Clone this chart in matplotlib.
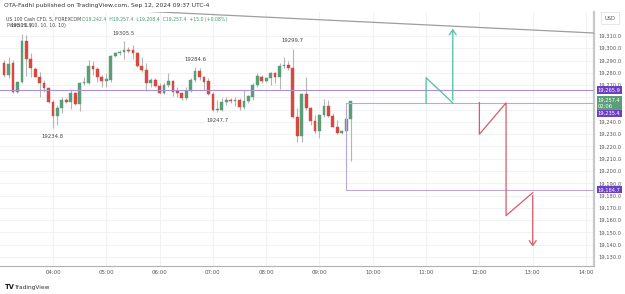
import matplotlib
matplotlib.use("Agg")
import matplotlib.pyplot as plt
import matplotlib.transforms as mtransforms

# ---------------- data ----------------
start_minute = 3 * 60 + 5      # first candle 03:05, 5-minute bars
bar_minutes = 5

opens = [19288.0, 19278.2, 19288.0, 19264.4, 19272.5, 19305.9, 19291.3, 19283.1, 19276.6, 19271.7,
         19267.7, 19256.3, 19244.9, 19251.4, 19257.9, 19256.3, 19263.6, 19254.6, 19271.7, 19271.7,
         19285.6, 19283.1, 19276.6, 19273.4, 19274.2, 19293.7, 19296.2, 19297.0, 19298.6, 19298.6,
         19296.2, 19285.6, 19282.3, 19271.7, 19274.2, 19269.3, 19263.6, 19270.1, 19273.4, 19265.2,
         19263.6, 19259.5, 19265.2, 19274.2, 19281.5, 19276.6, 19273.4, 19262.8, 19249.7, 19249.7,
         19256.3, 19257.9, 19256.7, 19257.9, 19252.2, 19257.1, 19260.3, 19270.1, 19276.6, 19273.4,
         19275.8, 19279.9, 19276.6, 19285.6, 19286.4, 19283.9, 19244.0, 19228.6, 19262.8, 19251.4,
         19240.8, 19232.6, 19245.7, 19253.0, 19244.9, 19235.9, 19231.0, 19232.6, 19242.4]
highs = [19290.5, 19292.9, 19290.5, 19273.4, 19311.9, 19311.0, 19296.2, 19284.8, 19280.7, 19274.2,
         19268.5, 19257.9, 19253.8, 19260.3, 19259.5, 19266.0, 19264.4, 19272.5, 19276.6, 19290.5,
         19289.6, 19284.8, 19278.2, 19279.9, 19294.5, 19297.0, 19298.6, 19305.5, 19301.0, 19302.7,
         19297.0, 19292.9, 19288.0, 19275.8, 19275.8, 19271.7, 19271.7, 19279.9, 19274.2, 19268.5,
         19264.4, 19268.5, 19275.8, 19284.6, 19283.9, 19277.4, 19275.8, 19264.4, 19257.9, 19259.5,
         19260.3, 19259.5, 19260.3, 19259.5, 19266.0, 19262.0, 19271.7, 19279.9, 19278.2, 19276.6,
         19280.7, 19280.7, 19288.0, 19292.9, 19289.6, 19299.7, 19251.4, 19263.6, 19276.6, 19252.2,
         19245.7, 19246.5, 19258.7, 19257.9, 19247.3, 19241.6, 19233.4, 19250.6, 19257.4]
lows = [19276.6, 19275.8, 19263.6, 19263.6, 19271.7, 19277.4, 19276.6, 19276.2, 19260.3, 19264.4,
        19255.5, 19234.8, 19237.5, 19247.3, 19255.5, 19250.6, 19253.8, 19248.9, 19270.1, 19270.9,
        19278.2, 19272.5, 19268.5, 19268.5, 19272.5, 19292.9, 19294.5, 19291.3, 19296.2, 19291.3,
        19284.8, 19280.7, 19265.2, 19268.5, 19268.5, 19263.0, 19263.0, 19268.5, 19261.1, 19260.3,
        19257.9, 19257.9, 19264.4, 19272.5, 19274.2, 19266.0, 19262.0, 19248.5, 19247.7, 19248.9,
        19253.8, 19255.5, 19253.0, 19249.7, 19250.6, 19255.5, 19257.9, 19268.5, 19271.7, 19272.5,
        19270.1, 19271.7, 19266.8, 19283.9, 19282.3, 19243.2, 19223.7, 19223.7, 19249.7, 19237.5,
        19231.0, 19227.0, 19244.0, 19244.0, 19235.5, 19230.2, 19230.2, 19204.0, 19208.4]
closes = [19278.2, 19287.2, 19264.4, 19272.5, 19305.9, 19291.3, 19283.9, 19276.6, 19271.7, 19267.7,
          19256.3, 19244.9, 19251.4, 19257.9, 19256.3, 19263.6, 19254.6, 19271.7, 19272.5, 19285.6,
          19283.1, 19276.6, 19273.4, 19275.0, 19293.7, 19296.2, 19297.0, 19298.6, 19297.8, 19296.2,
          19285.6, 19282.3, 19271.7, 19274.2, 19269.3, 19263.6, 19270.1, 19273.4, 19264.4, 19263.6,
          19259.5, 19265.2, 19274.2, 19281.5, 19276.6, 19272.5, 19262.8, 19249.7, 19250.6, 19256.3,
          19257.9, 19257.1, 19257.9, 19252.2, 19257.1, 19261.1, 19270.1, 19277.4, 19273.4, 19275.8,
          19279.9, 19276.6, 19285.6, 19286.4, 19283.9, 19244.0, 19228.6, 19262.8, 19251.4, 19240.8,
          19232.6, 19245.7, 19253.0, 19244.9, 19235.9, 19231.0, 19232.6, 19242.4, 19257.4]

# pivot labels: (bar index, price, kind)
pivot_idx = [4, 11, 27, 43, 48, 65]
pivot_val = [19311.9, 19234.8, 19305.5, 19284.6, 19247.7, 19299.7]
pivot_kind = ["high", "low", "high", "high", "low", "high"]

# horizontal levels / boxes
level_line = 19265.9
rect_left_hour = 9.5
rect_top = 19255.5
rect_bottom = 19184.7

# trend line (hour, price)
trend_x = [3.0, 14.15]
trend_y = [19335.8, 19312.4]

# projected zigzags (hour, price)
bull_x = [11.0, 11.0, 11.5, 11.5]
bull_y = [19255.5, 19276.0, 19255.5, 19318.0]
bear_x = [12.0, 12.0, 12.5, 12.5, 13.0, 13.0]
bear_y = [19255.7, 19230.0, 19255.5, 19163.7, 19182.4, 19136.3]

# price-scale labels: (price position, text, colour)
box_pos = [19265.9, 19255.4, 19247.0, 19184.7]
box_txt = ["19,265.9", "19,257.4\n02:06", "19,235.4", "19,184.7"]
box_col = ["#6c3fc4", "#5a9e77", "#6c3fc4", "#6c3fc4"]

x_ticks = [4, 5, 6, 7, 8, 9, 10, 11, 12, 13, 14]
x_tick_labels = ["04:00", "05:00", "06:00", "07:00", "08:00", "09:00",
                 "10:00", "11:00", "12:00", "13:00", "14:00"]
y_ticks = [19130, 19140, 19150, 19160, 19170, 19180, 19190, 19200, 19210, 19220,
           19230, 19240, 19250, 19260, 19270, 19280, 19290, 19300, 19310]

# ---------------- drawing ----------------
W, H = 625, 294
fig = plt.figure(figsize=(W / 100, H / 100), dpi=100)
fig.patch.set_facecolor("white")
top_px, bot_px, right_px = 12, 266, 594
ax = fig.add_axes([0, 1 - bot_px / H, right_px / W, (bot_px - top_px) / H])
ax.set_xlim(3.006, 14.15)
ax.set_ylim(19122.7, 19329.5)

GREEN = "#5a9e77"
RED = "#d6493f"
WICK = "#b5b5b5"
GRID = "#f0f2f5"

hours = [(start_minute + i * bar_minutes) / 60.0 for i in range(len(opens))]
bw = bar_minutes / 60.0 * 0.62
for t, o, h, l, c in zip(hours, opens, highs, lows, closes):
    col = GREEN if c >= o else RED
    ax.vlines(t, l, h, color=WICK, lw=0.8, zorder=2)
    lo, hi = min(o, c), max(o, c)
    ax.bar(t, max(hi - lo, 0.6), bottom=lo, width=bw, color=col, edgecolor=col,
           lw=0.3, zorder=3)

# pivot labels
for i, v, k in zip(pivot_idx, pivot_val, pivot_kind):
    t = hours[i]
    up = k == "high"
    ax.annotate(f"{v:.1f}", (t, v), xytext=(0, 4 if up else -4), textcoords="offset points",
                ha="center", va="bottom" if up else "top", fontsize=3.9, color="#444444",
                bbox=dict(boxstyle="square,pad=0.2", fc="white", ec="none", alpha=0.9),
                zorder=6)

# level line and rectangle
ax.axhline(level_line, color="#a98fdc", lw=0.8, zorder=4)
xmax = ax.get_xlim()[1]
ax.plot([rect_left_hour, xmax, xmax, rect_left_hour, rect_left_hour],
        [rect_top, rect_top, rect_bottom, rect_bottom, rect_top],
        color="#b9a9d6", lw=0.8, zorder=4, clip_on=True)

# trend line
ax.plot(trend_x, trend_y, color="#9e9e9e", lw=0.9, zorder=4)

# zigzags
TEAL = "#4dbfa6"
PINK = "#d85a66"
ax.plot(bull_x[:-1], bull_y[:-1], color=TEAL, lw=0.9, zorder=5)
ax.annotate("", xy=(bull_x[-1], bull_y[-1]), xytext=(bull_x[-2], bull_y[-2]),
            arrowprops=dict(arrowstyle="->,head_length=0.35,head_width=0.25",
                            color=TEAL, lw=0.9), zorder=5)
ax.plot(bear_x[:-1], bear_y[:-1], color=PINK, lw=0.9, zorder=5)
ax.annotate("", xy=(bear_x[-1], bear_y[-1]), xytext=(bear_x[-2], bear_y[-2]),
            arrowprops=dict(arrowstyle="->,head_length=0.35,head_width=0.25",
                            color=PINK, lw=0.9), zorder=5)

# grid & ticks
ax.set_xticks(x_ticks)
ax.set_xticklabels(x_tick_labels)
ax.set_yticks(y_ticks)
ax.set_yticklabels([f"{v:,.1f}" for v in y_ticks])
ax.grid(True, color=GRID, lw=0.8, zorder=0)
ax.set_axisbelow(True)
ax.yaxis.tick_right()
ax.tick_params(axis="y", length=0, pad=3, labelsize=3.7, labelcolor="#555555")
ax.tick_params(axis="x", length=0, pad=3, labelsize=3.9, labelcolor="#555555")
for s in ["top", "left"]:
    ax.spines[s].set_visible(False)
ax.spines["bottom"].set_color("#b0b0b0")
ax.spines["bottom"].set_linewidth(0.8)
ax.spines["right"].set_color("#c8c8c8")
ax.spines["right"].set_linewidth(1.6)

# price-scale boxes
trans = mtransforms.blended_transform_factory(ax.transAxes, ax.transData)
for p, txt, col in zip(box_pos, box_txt, box_col):
    ax.text(1.0065, p, txt, transform=trans, ha="left", va="center",
            fontsize=3.7, color="white", linespacing=1.25,
            bbox=dict(boxstyle="square,pad=0.22", fc=col, ec="none"), zorder=7,
            clip_on=False)

# header texts
fig.text(4 / W, 1 - 6 / H, "OTA-Fadhl published on TradingView.com, Sep 12, 2024 09:37 UTC-4",
         fontsize=4.3, color="#333333", va="center", ha="left")
fig.text(6 / W, 1 - 19 / H, "US 100 Cash CFD, 5, FOREXCOM", fontsize=3.3, color="#444444",
         va="center", ha="left")
fig.text(82 / W, 1 - 19 / H,
         "O19,242.4  H19,257.4  L19,208.4  C19,257.4  +15.0 (+0.08%)",
         fontsize=3.3, color="#3f9a6a", va="center", ha="left")
fig.text(7 / W, 1 - 26 / H, "Pivots HL (10, 10, 10, 10)", fontsize=3.3, color="#444444",
         va="center", ha="left")
fig.text(610 / W, 1 - 18 / H, "USD", fontsize=3.7, color="#555555", va="center", ha="center",
         bbox=dict(boxstyle="square,pad=0.6", fc="white", ec="#dddddd", lw=0.5))

# TradingView footer
fig.text(5 / W, 1 - 287 / H, "TV", fontsize=4.8, color="#131722", fontweight="bold",
         va="center", ha="left")
fig.text(14 / W, 1 - 287 / H, "TradingView", fontsize=4.2, color="#333333",
         va="center", ha="left")

fig.savefig("out.png", dpi=100, facecolor="white")
